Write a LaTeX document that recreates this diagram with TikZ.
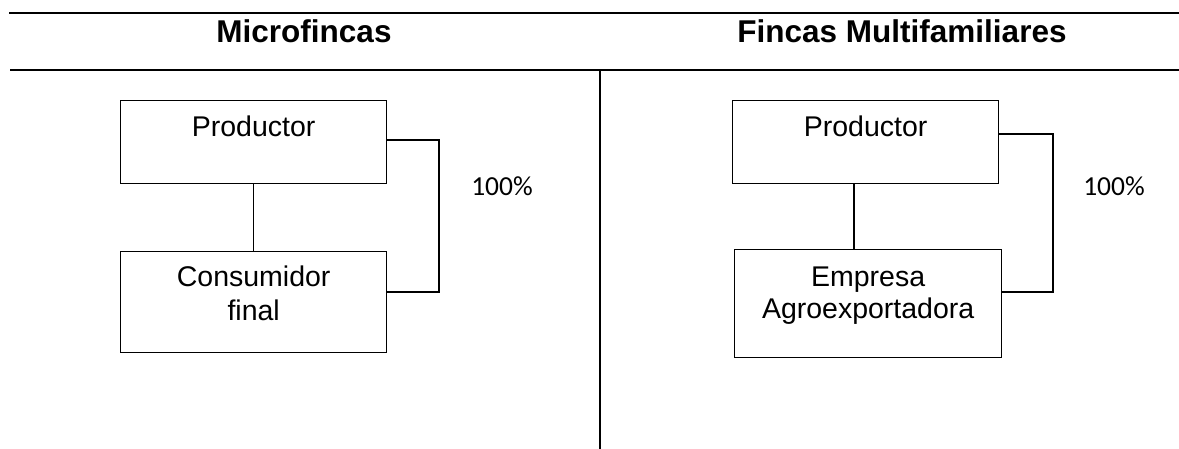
\documentclass[tikz,border=0pt]{standalone}
\usepackage{fontspec}
\setmainfont{Liberation Sans}
\newfontfamily\calib{Carlito}
\usetikzlibrary{calc}
\begin{document}
\begin{tikzpicture}[x=1pt,y=-1pt,
  rule/.style={line width=2pt},
  boxnode/.style={draw,line width=1.3pt,anchor=north west,inner sep=0pt},
  link/.style={line width=1.3pt},
  ttl/.style={font=\fontsize{31.5}{36}\selectfont\bfseries,anchor=base,inner sep=0pt},
  lbl/.style={font=\fontsize{28.5}{33}\selectfont,anchor=base,inner sep=0pt},
  pct/.style={font=\calib\fontsize{27.5}{33}\selectfont,anchor=base,inner sep=0pt}]
\useasboundingbox (0,0) rectangle (1179,449);
% header rules
\coordinate (t0) at (9,13);
\coordinate (t1) at (1179,13);
\coordinate (m0) at (10,70);
\coordinate (m1) at (1179,70);
\coordinate (d0) at (600,70);
\coordinate (d1) at (600,449);
\draw[rule] (t0) -- (t1);
\draw[rule] (m0) -- (m1);
\draw[rule] (d0) -- (d1);
\node[ttl] (h1) at (304,43) {Microfincas};
\node[ttl] (h2) at (902,43) {Fincas Multifamiliares};
% left
\node[boxnode,minimum width=266pt,minimum height=83pt] (p1) at (120,100) {};
\node[boxnode,minimum width=266pt,minimum height=101pt] (c1) at (120,251) {};
\node[lbl] (p1t) at ($(p1.north)+(0,37)$) {Productor};
\node[lbl] (c1t) at ($(c1.north)+(0,36)$) {Consumidor};
\node[lbl] (c1u) at ($(c1.north)+(0,69)$) {final};
\draw[link] (p1.south) -- (c1.north);
\coordinate (b1) at (439,140);
\coordinate (b2) at (439,292);
\draw[link] (p1.east |- b1) -- (b1) -- (b2) -- (c1.east |- b2);
\node[pct] (q1) at (502,196) {100\%};
% right
\node[boxnode,minimum width=266pt,minimum height=83pt] (p2) at (732,100) {};
\node[boxnode,minimum width=267pt,minimum height=108pt] (c2) at (734,249) {};
\node[lbl] (p2t) at ($(p2.north)+(0,37)$) {Productor};
\node[lbl] (c2t) at ($(c2.north)+(0,38)$) {Empresa};
\node[lbl] (c2u) at ($(c2.north)+(0,70)$) {Agroexportadora};
\coordinate (s1) at (854,0);
\draw[link] (p2.south -| s1) -- (c2.north -| s1);
\coordinate (b3) at (1053,134);
\coordinate (b4) at (1053,292);
\draw[link] (p2.east |- b3) -- (b3) -- (b4) -- (c2.east |- b4);
\node[pct] (q2) at (1114,196) {100\%};
\end{tikzpicture}
\end{document}
